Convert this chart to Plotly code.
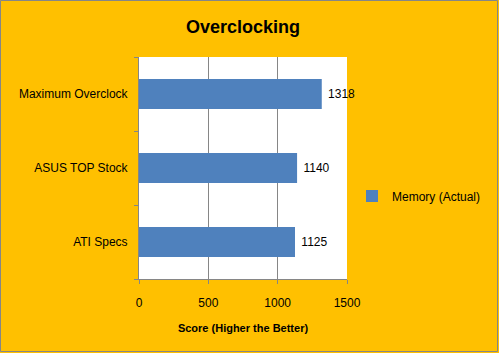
import plotly.graph_objects as go

categories = ["ATI Specs", "ASUS TOP Stock", "Maximum Overclock"]
values = [1125, 1140, 1318]
series_name = "Memory (Actual)"
x_ticks = [0, 500, 1000, 1500]

W, H = 499, 353
L, R, T, B = 139, 152, 57, 74
pw, ph = W - L - R, H - T - B

font = "Liberation Sans, Arial, sans-serif"

fig = go.Figure()
fig.add_trace(go.Bar(
    y=categories, x=values, orientation="h", name=series_name,
    marker=dict(color="#4F81BD", line=dict(width=0)),
    width=0.405,
    text=[" " + str(v) for v in values], textposition="outside",
    textfont=dict(family=font, size=12, color="black"),
    cliponaxis=False,
))

fig.update_layout(
    width=W, height=H,
    margin=dict(l=L, r=R, t=T, b=B, pad=0, autoexpand=False),
    paper_bgcolor="#FFC000", plot_bgcolor="white",
    font=dict(family=font, size=12, color="black"),
    title=dict(text="<b>Overclocking</b>", x=0.5, xref="paper", xanchor="center",
               y=1 - 27 / H, yanchor="middle", yref="container",
               font=dict(family=font, size=18, color="black")),
    showlegend=True,
    legend=dict(x=(352 - L) / pw, y=(T + ph - 196) / ph, xanchor="left", yanchor="middle",
                bgcolor="rgba(0,0,0,0)", font=dict(family=font, size=12),
                itemwidth=30),
    bargap=0.6,
)
fig.update_xaxes(range=[0, 1500], tickvals=x_ticks, ticks="outside", ticklen=4,
                 tickcolor="#868686", showgrid=True, gridcolor="#868686", gridwidth=1,
                 showline=True, linecolor="#868686", linewidth=1, zeroline=False,
                 ticklabelstandoff=9,
                 title=dict(text="<b>Score (Higher the Better)</b>", standoff=14,
                            font=dict(family=font, size=11)))
fig.update_yaxes(categoryorder="array", categoryarray=categories, ticks="outside",
                 ticklen=4, tickcolor="#868686", tickson="boundaries",
                 showline=True, linecolor="#868686", linewidth=1, showgrid=False,
                 ticklabelstandoff=8)

fig.add_shape(type="rect", xref="paper", yref="paper",
              x0=(0.5 - L) / pw, x1=(W - 1.5 - L) / pw,
              y0=-(B - 1.5) / ph, y1=1 + (T - 0.5) / ph,
              line=dict(color="#868686", width=1), fillcolor="rgba(0,0,0,0)", layer="above")

fig.write_html("out.html")
